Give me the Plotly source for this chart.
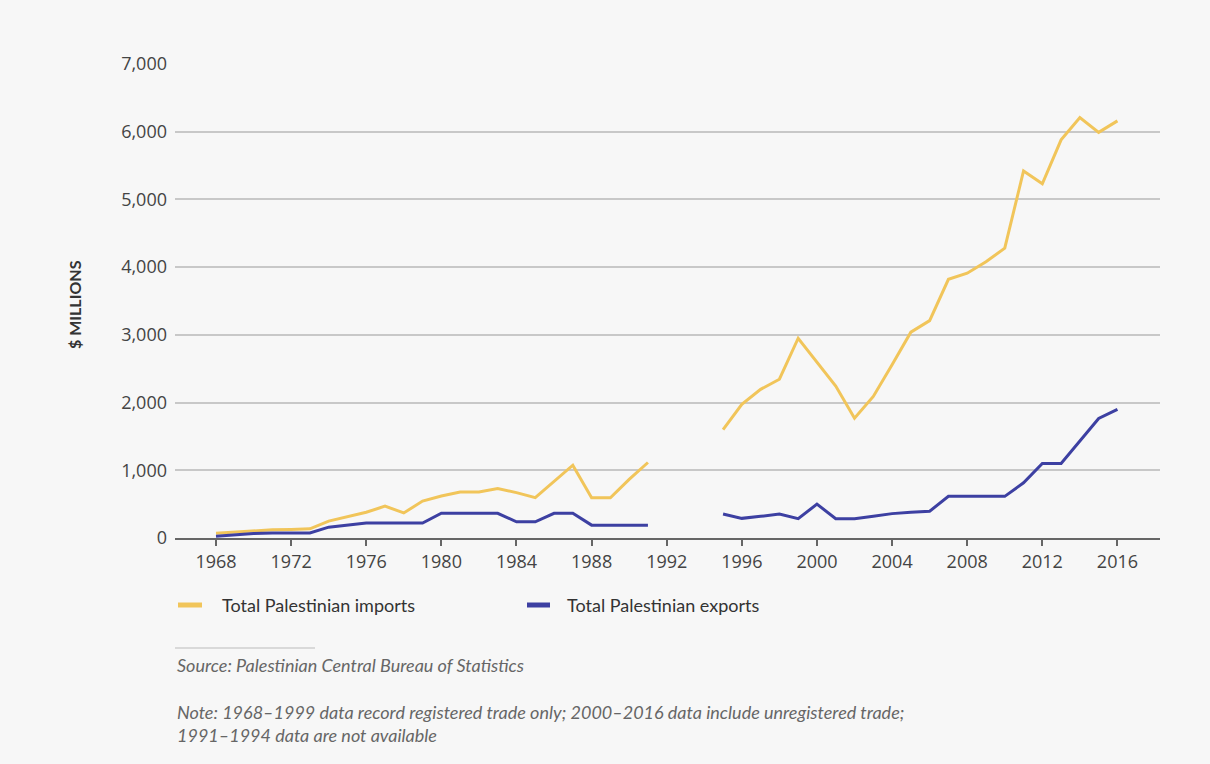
import plotly.graph_objects as go

years = list(range(1968, 2017))

imports = [70, 90, 110, 120, 125, 135, 250, 320, 380, 470, 370, 545, 620, 680, 680, 730,
           670, 595, 840, 1075, 595, 595, 865, 1115,
           None, None, None,
           1600, 1975, 2195, 2345, 2950, 2600, 2245, 1770, 2090, 2560, 3040, 3210, 3820,
           3910, 4080, 4280, 5420, 5230, 5880, 6210, 5990, 6160]

exports = [25, 50, 65, 75, 75, 75, 160, 195, 220, 220, 220, 220, 365, 365, 365, 365,
           240, 240, 365, 365, 190, 190, 190, 190,
           None, None, None,
           355, 290, 320, 355, 285, 500, 285, 285, 320, 360, 380, 395, 615,
           615, 615, 615, 815, 1100, 1100, 1430, 1765, 1900]

x_ticks = list(range(1968, 2017, 4))
y_ticks = list(range(0, 7001, 1000))

series_names = ["Total Palestinian imports", "Total Palestinian exports"]
y_title = "$ MILLIONS"
source_text = "Source: Palestinian Central Bureau of Statistics"
note_lines = ["Note: 1968–1999 data record registered trade only; 2000–2016 data include unregistered trade;",
              "1991–1994 data are not available"]

YELLOW = "#F1C55A"
BLUE = "#3D40A2"
FONT = "Lato"
TICKFONT = "Open Sans"

# plot area geometry (pixels)
L, R, T, B = 175, 1160, 64, 538
W, H = 1210, 764


def px(xp):
    return (xp - L) / (R - L)


def py(yp):
    return (B - yp) / (B - T)


fig = go.Figure()
fig.add_trace(go.Scatter(x=years, y=imports, mode="lines", name=series_names[0],
                         line=dict(color=YELLOW, width=3), connectgaps=False,
                         showlegend=False, hoverinfo="skip"))
fig.add_trace(go.Scatter(x=years, y=exports, mode="lines", name=series_names[1],
                         line=dict(color=BLUE, width=3), connectgaps=False,
                         showlegend=False, hoverinfo="skip"))

x0 = 1968 - (216 - L) / 18.78
x1 = 1968 + (R - 216) / 18.78

fig.update_layout(
    width=W, height=H,
    margin=dict(l=L, r=W - R, t=T, b=H - B),
    paper_bgcolor="#f7f7f7", plot_bgcolor="#f7f7f7",
    font=dict(family=FONT, color="#444", size=15),
    xaxis=dict(range=[x0, x1], tickvals=x_ticks, showgrid=False, zeroline=False,
               showline=True, linecolor="#666", linewidth=2,
               ticks="outside", ticklen=6, tickwidth=1.5, tickcolor="#666",
               tickfont=dict(size=18, color="#444", family=TICKFONT)),
    yaxis=dict(range=[0, 7000], tickvals=y_ticks, tickformat=",", showgrid=True,
               gridcolor="#c8c8c8", gridwidth=1.5, zeroline=False, showline=False,
               ticks="", ticklabelstandoff=7,
               tickfont=dict(size=18, color="#444", family=TICKFONT)),
)

# y-axis title
fig.add_annotation(x=px(74), y=py(305), xref="paper", yref="paper", text="<b>" + y_title + "</b>",
                   textangle=-90, showarrow=False, xanchor="center", yanchor="middle",
                   font=dict(size=16, color="#333", family=FONT))

# legend
leg = [(178, 202, 220, YELLOW, series_names[0]), (527, 550, 565, BLUE, series_names[1])]
for xa, xb, xt, col, name in leg:
    fig.add_shape(type="line", xref="paper", yref="paper", x0=px(xa), x1=px(xb),
                  y0=py(605), y1=py(605), line=dict(color=col, width=5))
    fig.add_annotation(x=px(xt), y=py(605), xref="paper", yref="paper", text=name,
                       xanchor="left", yanchor="middle", showarrow=False,
                       font=dict(size=18, color="#333", family=FONT))

# separator line
fig.add_shape(type="line", xref="paper", yref="paper", x0=px(175), x1=px(315),
              y0=py(648), y1=py(648), line=dict(color="#bbbbbb", width=1))

fig.add_annotation(x=px(175), y=py(665), xref="paper", yref="paper", text="<i>" + source_text + "</i>",
                   xanchor="left", yanchor="middle", showarrow=False,
                   font=dict(size=18, color="#666", family=FONT))
for i, line in enumerate(note_lines):
    fig.add_annotation(x=px(175), y=py(712 + 23 * i), xref="paper", yref="paper",
                       text="<i>" + line + "</i>", xanchor="left", yanchor="middle",
                       showarrow=False, font=dict(size=18, color="#666", family=FONT))

fig.write_html("out.html", config={"displayModeBar": False},
               post_script="document.body.style.margin='0';")
